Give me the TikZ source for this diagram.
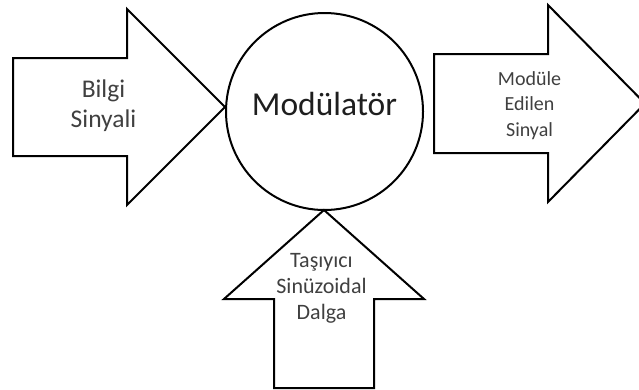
\documentclass[tikz,border=0pt]{standalone}
\usepackage{fontspec}
\setmainfont{Carlito}
\definecolor{labelgray}{HTML}{404040}
\definecolor{titlegray}{HTML}{1E1E1E}
\begin{document}
\begin{tikzpicture}[x=1pt,y=-1pt,
  blockarrow/.style={draw=black, line width=2pt, line join=miter, fill=white},
  arrowlabel/.style={align=center, text=labelgray, inner sep=0pt, anchor=base}]
\useasboundingbox (0,0) rectangle (639,389);

% input arrow (left)
\draw[blockarrow] (13,58) -- (127,58) -- (127,9) -- (225,107)
  -- (127,205) -- (127,156) -- (13,156) -- cycle;

% output arrow (right)
\draw[blockarrow] (434,54) -- (548,54) -- (548,5) -- (645,103.5)
  -- (548,202) -- (548,153) -- (434,153) -- cycle;

% carrier arrow (bottom)
\draw[blockarrow] (274,388) -- (274,299) -- (224,299) -- (324,210)
  -- (424,299) -- (374,299) -- (374,388) -- cycle;

% modulator
\node[circle, draw=black, line width=2pt, minimum size=197pt, inner sep=0pt]
  (mod) at (324.5,111.5) {};
\node[anchor=base, text=titlegray, inner sep=0pt,
  font=\fontsize{33.5}{40}\selectfont] (modtext) at (324.5,115) {Modülatör};

% labels (anchored at the baseline of their last line)
\node[arrowlabel, font=\fontsize{25.5}{30}\selectfont] (bilgi) at (103.5,127)
  {Bilgi\\Sinyali};
\node[arrowlabel, font=\fontsize{20}{25.5}\selectfont] (cikis) at (529.5,136)
  {Modüle\\Edilen\\Sinyal};
\node[arrowlabel, font=\fontsize{22}{26}\selectfont] (tasiyici) at (321.5,319)
  {Taşıyıcı\\Sinüzoidal\\Dalga};
\end{tikzpicture}
\end{document}
